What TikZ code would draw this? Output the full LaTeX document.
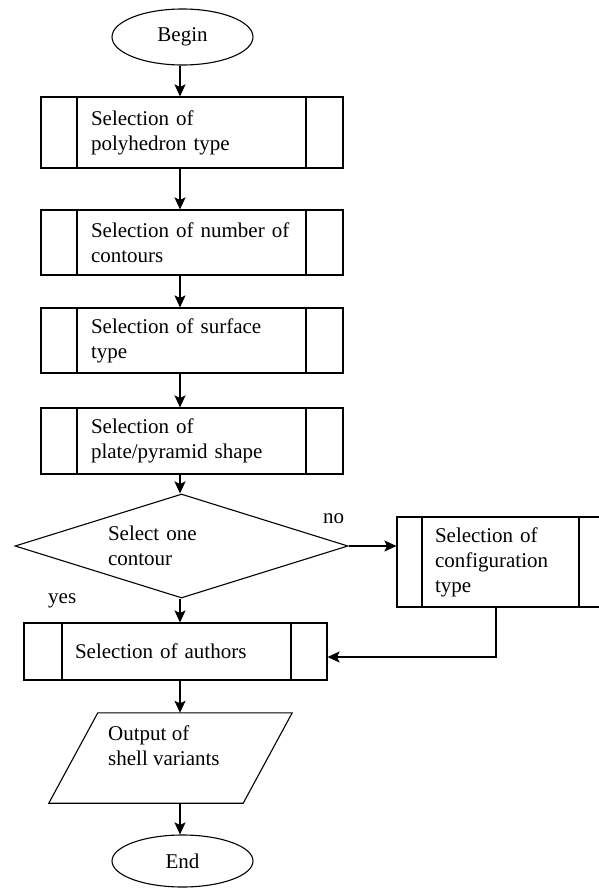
\documentclass[tikz,border=0pt]{standalone}
\usepackage{fontspec}
\setmainfont{Liberation Serif}
\usetikzlibrary{shapes.geometric,arrows.meta}
\tikzset{
  subproc/.style 2 args={draw, line width=1.1pt, rectangle, inner sep=0pt, align=left,
    path picture={
      \draw[line width=1.1pt]
        ([xshift=#1]path picture bounding box.north west) -- ([xshift=#1]path picture bounding box.south west)
        ([xshift=-#2]path picture bounding box.north east) -- ([xshift=-#2]path picture bounding box.south east);
    }},
  term/.style={draw, line width=1.1pt, ellipse, inner sep=0pt},
  decision/.style={draw, line width=1.1pt, diamond, aspect=3.2, inner sep=0pt, align=left},
  iobox/.style={rectangle, inner sep=0pt},
  ioline/.style={line width=1.1pt, line join=miter},
  plain/.style={inner sep=0pt, align=left},
  arr/.style={line width=1.5pt, -{Stealth[length=12pt,width=11pt,inset=2.5pt]}},
}
\begin{document}
\begin{tikzpicture}[x=1pt, y=-1pt, font=\fontsize{21}{25}\selectfont]
\useasboundingbox (0,0) rectangle (598,888);
\coordinate (ax) at (180,0);

\node[term, minimum width=141pt, minimum height=56pt] (begin) at (182.5,37) {Begin};

\node[subproc={36pt}{37pt}, minimum width=302pt, minimum height=71pt, text width=202pt] (b1) at (192,132.5)
  {Selection of\\polyhedron type};
\node[subproc={36pt}{37pt}, minimum width=302pt, minimum height=65pt, text width=202pt] (b2) at (192,242.5)
  {Selection of number of\\contours};
\node[subproc={36pt}{37pt}, minimum width=302pt, minimum height=65pt, text width=202pt] (b3) at (192,340.5)
  {Selection of surface\\type};
\node[subproc={36pt}{37pt}, minimum width=302pt, minimum height=66pt, text width=202pt] (b4) at (192,441)
  {Selection of\\plate/pyramid shape};

\node[decision, minimum width=333pt, minimum height=104pt, text width=147pt] (dia) at (181.5,546)
  {Select one\\contour};

\node[subproc={25pt}{22pt}, minimum width=204pt, minimum height=90pt, text width=128pt] (conf) at (499,562)
  {Selection of\\configuration\\type};

\node[subproc={38pt}{36pt}, minimum width=303pt, minimum height=57pt, text width=201pt] (auth) at (175.5,651.5)
  {Selection of authors};

\node[iobox, minimum width=243pt, minimum height=90pt] (out) at (170.5,758) {};
\draw[ioline] ([xshift=49pt]out.north west) -- (out.north east) -- ([xshift=-49pt]out.south east)
  -- (out.south west) -- cycle;
\node[plain, anchor=north west] (outtext) at (108,725.7) {Output of\\shell variants};

\node[term, minimum width=141pt, minimum height=52pt] (end) at (182.5,861) {End};

\node[plain, anchor=base west] (no) at (323,523) {no};
\node[plain, anchor=base west] (yes) at (48,603) {yes};

\draw[arr] (begin.south -| ax) -- (b1.north -| ax);
\draw[arr] (b1.south -| ax) -- (b2.north -| ax);
\draw[arr] (b2.south -| ax) -- (b3.north -| ax);
\draw[arr] (b3.south -| ax) -- (b4.north -| ax);
\draw[arr] (b4.south -| ax) -- (dia.north -| ax);
\draw[arr] (dia.south -| ax) -- (auth.north -| ax);
\draw[arr] (auth.south -| ax) -- (out.north -| ax);
\draw[arr] (out.south -| ax) -- (end.north -| ax);
\draw[arr] (dia.east) -- (dia.east -| conf.west);
\draw[arr] ([xshift=-3pt]conf.south) |- ([yshift=-5.5pt]auth.east);
\end{tikzpicture}
\end{document}
